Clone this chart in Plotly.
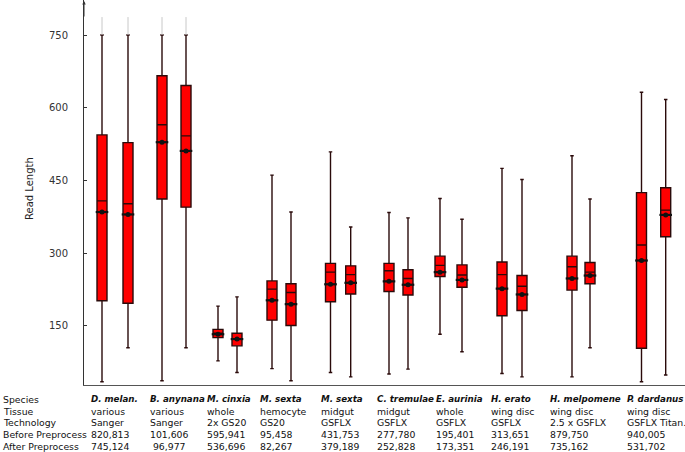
import plotly.graph_objects as go

# ---------------- data ----------------
species = ["D. melan.", "B. anynana", "M. cinxia", "M. sexta", "M. sexta",
           "C. tremulae", "E. aurinia", "H. erato", "H. melpomene", "P. dardanus"]
tissue = ["various", "various", "whole", "hemocyte", "midgut",
          "midgut", "whole", "wing disc", "wing disc", "wing disc"]
technology = ["Sanger", "Sanger", "2x GS20", "GS20", "GSFLX",
              "GSFLX", "GSFLX", "GSFLX", "2.5 x GSFLX", "GSFLX Titan."]
before_reads = ["820,813", "101,606", "595,941", "95,458", "431,753",
                "277,780", "195,401", "313,651", "879,750", "940,005"]
after_reads = ["745,124", "\u00a096,977", "536,696", "82,267", "379,189",
               "252,828", "173,351", "246,191", "735,162", "531,702"]

# read-length distribution before preprocessing
before_low = [35, 37, 78, 62, 54, 51, 133, 52, 45, 35]
before_q1 = [202, 412, 126, 162, 200, 221, 252, 171, 224, 104]
before_med = [408, 565, 135, 226, 261, 264, 275, 256, 272, 317]
before_mean = [385, 529, 133, 203, 236, 242, 261, 227, 248, 285]
before_q3 = [544, 666, 143, 243, 279, 279, 294, 282, 294, 425]
before_high = [750, 750, 191, 461, 509, 384, 413, 475, 501, 632]
before_max = [787, 787, None, None, None, None, None, None, None, None]

# read-length distribution after preprocessing
after_low = [105, 105, 54, 37, 45, 61, 97, 45, 105, 49]
after_q1 = [197, 395, 109, 151, 216, 214, 230, 182, 237, 334]
after_med = [402, 542, 124, 219, 256, 248, 255, 232, 261, 389]
after_mean = [380, 511, 123, 195, 239, 235, 245, 215, 254, 379]
after_q3 = [528, 646, 135, 237, 274, 266, 276, 254, 281, 435]
after_high = [750, 750, 210, 385, 354, 373, 370, 452, 412, 617]
after_max = [787, 787, None, None, None, None, None, None, None, None]

y_ticks = [150, 300, 450, 600, 750]
row_labels = ["Species", "Tissue", "Technology", "Before Preprocess", "After Preprocess"]

# ---------------- layout positions ----------------
X_BEFORE = [102, 162, 218, 272, 330.5, 389, 440, 502, 572, 641.5]
X_AFTER = [128, 186, 237, 291, 350.7, 408, 462, 522, 590, 665.7]
COL_LEFT = [89, 148, 205, 258, 319, 375, 434, 489, 548, 625]
ROW_Y = [399, 411, 422.5, 434, 446]   # pixel rows of the table
PLOT_LEFT, PLOT_BOTTOM = 84, 385
W, H = 685, 452

fig = go.Figure()

# faint extension above the whiskers
for xs, hi, mx in ((X_BEFORE, before_high, before_max), (X_AFTER, after_high, after_max)):
    lx, ly = [], []
    for x, h, m in zip(xs, hi, mx):
        if m is not None:
            lx += [x, x, None]
            ly += [h, m, None]
    fig.add_trace(go.Scatter(x=lx, y=ly, mode="lines",
                             line=dict(color="#c8c8c8", width=1),
                             hoverinfo="skip", showlegend=False))

box_style = dict(fillcolor="#ff0000", line=dict(color="#2a0a0a", width=1.4),
                 whiskerwidth=0.35, width=10, boxpoints=False, showlegend=False)

fig.add_trace(go.Box(x=X_BEFORE, q1=before_q1, median=before_med, q3=before_q3,
                     lowerfence=before_low, upperfence=before_high,
                     name="Before", **box_style))
fig.add_trace(go.Box(x=X_AFTER, q1=after_q1, median=after_med, q3=after_q3,
                     lowerfence=after_low, upperfence=after_high,
                     name="After", **box_style))

# mean markers
for xs, mean in ((X_BEFORE, before_mean), (X_AFTER, after_mean)):
    fig.add_trace(go.Scatter(x=xs, y=mean, mode="markers",
                             marker=dict(symbol="line-ew", size=9,
                                         line=dict(color="#111111", width=2.2)),
                             hoverinfo="skip", showlegend=False))
    fig.add_trace(go.Scatter(x=xs, y=mean, mode="markers",
                             marker=dict(symbol="circle", size=5, color="#111111"),
                             hoverinfo="skip", showlegend=False))

# ---------------- table annotations ----------------
def px2paper(px):
    return (px - PLOT_LEFT) / (W - PLOT_LEFT)


def py2paper(py):
    return (PLOT_BOTTOM - py) / PLOT_BOTTOM


FONT = "DejaVu Sans, sans-serif"
font_tab = dict(family=FONT, size=9.3, color="#111111")
font_sp = dict(family=FONT, size=8.7, color="#111111")
ann = []
for lbl, ry in zip(row_labels, ROW_Y):
    ann.append(dict(x=px2paper(1), y=py2paper(ry), xref="paper", yref="paper", text=lbl,
                    showarrow=False, xanchor="left", yanchor="middle", font=font_tab))
rows = [species, tissue, technology, before_reads, after_reads]
for ri, (row, ry) in enumerate(zip(rows, ROW_Y)):
    for cx, txt in zip(COL_LEFT, row):
        if ri == 0:
            t, f = f"<b><i>{txt}</i></b>", font_sp
        else:
            t, f = txt, font_tab
        ann.append(dict(x=px2paper(cx), y=py2paper(ry), xref="paper", yref="paper", text=t,
                        showarrow=False, xanchor="left", yanchor="middle", font=f))

# y-axis title
ann.append(dict(x=px2paper(29), y=py2paper(189), xref="paper", yref="paper", text="Read Length",
                textangle=-90, showarrow=False, xanchor="center", yanchor="middle",
                font=dict(family=FONT, size=10, color="#222222")))
# arrow at top of y-axis
ann.append(dict(x=0, y=1, xref="paper", yref="paper", ax=0, ay=18, text="",
                showarrow=True, arrowhead=2, arrowsize=0.7, arrowwidth=1,
                arrowcolor="#333333"))

fig.update_layout(
    width=W, height=H,
    margin=dict(l=PLOT_LEFT, r=0, t=0, b=H - PLOT_BOTTOM, pad=0),
    paper_bgcolor="white", plot_bgcolor="white",
    annotations=ann,
    xaxis=dict(range=[PLOT_LEFT, W], showgrid=False, zeroline=False, showticklabels=False,
               ticks="", showline=True, linecolor="#555555", linewidth=1),
    yaxis=dict(range=[28.3, 822.2], tickvals=y_ticks, showgrid=False, zeroline=False,
               showline=True, linecolor="#333333", linewidth=1,
               ticks="inside", ticklen=3, tickcolor="#333333",
               ticklabelstandoff=13,
               tickfont=dict(family=FONT, size=10, color="#333333")),
)

fig.write_html("out.html", config={"displayModeBar": False},
               post_script="document.body.style.margin='0';document.body.style.padding='0';")
